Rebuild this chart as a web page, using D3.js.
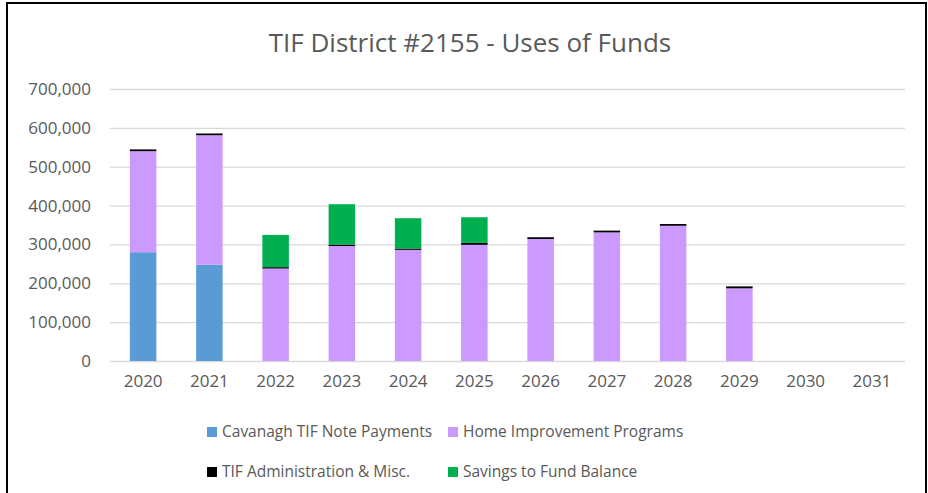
<!DOCTYPE html>
<html lang="en">
<head>
  <meta charset="UTF-8">
  <title>TIF District #2155 - Uses of Funds</title>
  <script src="https://cdn.jsdelivr.net/npm/d3@7"></script>
  <style>
    body { margin: 0; background: #fff; }
    svg { display: block; }
  </style>
</head>
<body>
<svg></svg>
<script>
  // data
  const years = ['2020', '2021', '2022', '2023', '2024', '2025', '2026', '2027', '2028', '2029', '2030', '2031']
  const cavanagh = [280000, 248000, 0, 0, 0, 0, 0, 0, 0, 0, 0, 0]
  const homeImprovement = [260000, 333000, 238000, 296000, 286000, 299000, 314000, 331000, 348000, 187000, 0, 0]
  const tifAdmin = [4500, 4500, 3500, 3500, 3500, 5000, 4500, 4500, 4500, 5000, 0, 0]
  const savings = [0, 0, 83000, 104000, 78000, 66000, 0, 0, 0, 0, 0, 0]
  const yTicks = [0, 100000, 200000, 300000, 400000, 500000, 600000, 700000]

  const seriesNames = ['Cavanagh TIF Note Payments', 'Home Improvement Programs', 'TIF Administration & Misc.', 'Savings to Fund Balance']
  const seriesValues = [cavanagh, homeImprovement, tifAdmin, savings]
  const colors = ['#5b9bd5', '#cc99ff', '#000000', '#00b050']

  const width = 928, height = 493
  const margin = {top: 89, right: 23, bottom: 132, left: 110}
  const font = '"Open Sans", sans-serif'

  // rows for d3.stack
  const table = years.map((yr, i) => {
    const row = {year: yr}
    seriesNames.forEach((s, j) => row[s] = seriesValues[j][i])
    return row
  })
  const stacked = d3.stack().keys(seriesNames)(table)

  const x = d3.scaleBand()
      .domain(years)
      .range([margin.left, width - margin.right])
      .paddingInner(0.6)
      .paddingOuter(0.3)

  const y = d3.scaleLinear()
      .domain([0, 700000])
      .range([height - margin.bottom, margin.top])

  const svg = d3.select('svg')
      .attr('width', width)
      .attr('height', height)
      .attr('font-family', font)

  // outer frame
  svg.append('rect')
      .attr('x', 7).attr('y', 3)
      .attr('width', 919).attr('height', 500)
      .attr('fill', 'none')
      .attr('stroke', '#000')
      .attr('stroke-width', 2)

  // title
  svg.append('text')
      .attr('x', 470)
      .attr('y', 52)
      .attr('text-anchor', 'middle')
      .attr('font-size', '26px')
      .attr('fill', '#595959')
      .text('TIF District #2155 - Uses of Funds')

  // y axis + gridlines
  const yAxis = svg.append('g')
      .attr('transform', `translate(${margin.left},0)`)
      .call(d3.axisLeft(y).tickValues(yTicks)
          .tickSize(-(width - margin.left - margin.right))
          .tickPadding(19)
          .tickFormat(d3.format(',')))
  yAxis.select('.domain').remove()
  yAxis.selectAll('.tick line').attr('stroke', '#d9d9d9').attr('stroke-width', 1.3)
  yAxis.selectAll('.tick text')
      .attr('font-family', font)
      .attr('font-size', '17px')
      .attr('fill', '#595959')

  // stacked bars
  svg.append('g')
      .selectAll('g')
      .data(stacked)
      .join('g')
      .attr('fill', (d, i) => colors[i])
      .selectAll('rect')
      .data(d => d)
      .join('rect')
      .attr('x', d => x(d.data.year))
      .attr('y', d => y(d[1]))
      .attr('width', x.bandwidth())
      .attr('height', d => y(d[0]) - y(d[1]))

  // x axis labels
  const xAxis = svg.append('g')
      .attr('transform', `translate(0,${height - margin.bottom})`)
      .call(d3.axisBottom(x).tickSize(0).tickPadding(14))
  xAxis.select('.domain').remove()
  xAxis.selectAll('.tick text')
      .attr('font-family', font)
      .attr('font-size', '17px')
      .attr('fill', '#595959')

  // legend (2 x 2)
  const legendPos = [[207, 432], [448, 432], [207, 472], [448, 472]]
  const legend = svg.append('g')
      .selectAll('g')
      .data(seriesNames)
      .join('g')
      .attr('transform', (d, i) => `translate(${legendPos[i][0]},${legendPos[i][1]})`)
  legend.append('rect')
      .attr('x', 0).attr('y', -5)
      .attr('width', 10).attr('height', 10)
      .attr('fill', (d, i) => colors[i])
  legend.append('text')
      .attr('x', 15)
      .attr('dy', '0.35em')
      .attr('font-size', '15.5px')
      .attr('fill', '#595959')
      .text(d => d)
</script>
</body>
</html>
